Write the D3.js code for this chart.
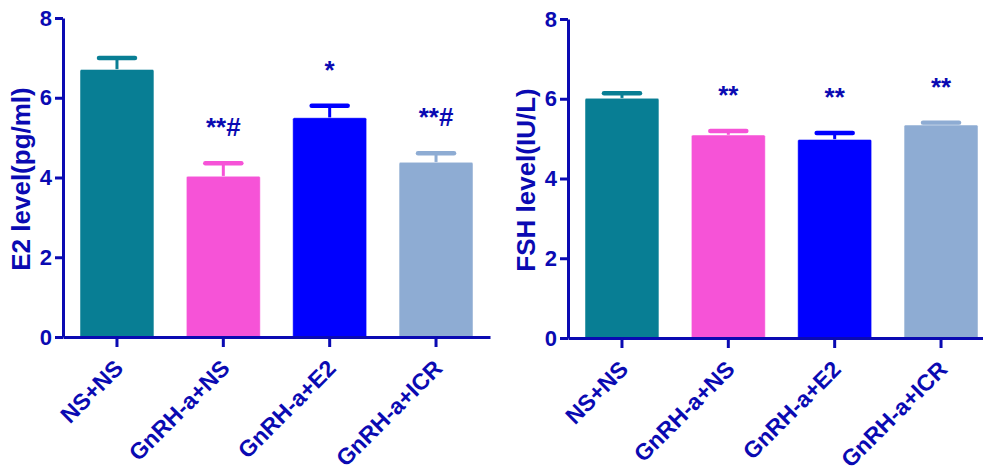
<!DOCTYPE html>
<html>
<head>
<meta charset="utf-8">
<script src="https://cdn.jsdelivr.net/npm/d3@7"></script>
<style>
  body { margin: 0; background: #fff; }
  svg text { font-family: "Liberation Sans", Arial, sans-serif; font-weight: bold; }
</style>
</head>
<body>
<svg id="chart" width="983" height="471"></svg>
<script>
const groups = ["NS+NS", "GnRH-a+NS", "GnRH-a+E2", "GnRH-a+ICR"];
const colors = ["#087e94", "#f653d7", "#0000ff", "#8eacd3"];
const yTicks = [0, 2, 4, 6, 8];

// E2 panel
const e2Values = [6.71, 4.03, 5.50, 4.38];
const e2Errors = [0.29, 0.33, 0.30, 0.23];
const e2Marks = ["", "**#", "*", "**#"];

// FSH panel
const fshValues = [6.01, 5.09, 4.98, 5.34];
const fshErrors = [0.13, 0.10, 0.16, 0.06];
const fshMarks = ["", "**", "**", "**"];

const ink = "#0a0ab2";
const svg = d3.select("#chart");

function drawPanel(cfg) {
    const g = svg.append("g");

    let x = d3.scaleBand()
        .domain(groups)
        .range([cfg.left, cfg.left + 427])
        .paddingInner(0.305)
        .paddingOuter(0.16)
        .align(0.5);

    let y = d3.scaleLinear()
        .domain([0, 8])
        .range([cfg.bottom, cfg.bottom - 319]);

    const data = groups.map((d, i) => ({
        group: d, value: cfg.values[i], err: cfg.errors[i], mark: cfg.marks[i], color: colors[i]
    }));

    // error bars first, bar covers the lower stem
    g.selectAll(".stem")
        .data(data)
        .join("line")
        .attr("x1", d => x(d.group) + x.bandwidth() / 2)
        .attr("x2", d => x(d.group) + x.bandwidth() / 2)
        .attr("y1", d => y(d.value))
        .attr("y2", d => y(d.value + d.err))
        .attr("stroke", d => d.color)
        .attr("stroke-width", 3);

    g.selectAll(".cap")
        .data(data)
        .join("line")
        .attr("x1", d => x(d.group) + x.bandwidth() / 2 - 18)
        .attr("x2", d => x(d.group) + x.bandwidth() / 2 + 18)
        .attr("y1", d => y(d.value + d.err))
        .attr("y2", d => y(d.value + d.err))
        .attr("stroke", d => d.color)
        .attr("stroke-width", 4.5)
        .attr("stroke-linecap", "round");

    g.selectAll("rect")
        .data(data)
        .join("rect")
        .attr("x", d => x(d.group))
        .attr("y", d => y(d.value))
        .attr("width", x.bandwidth())
        .attr("height", d => y(0) - y(d.value))
        .attr("rx", 1.5)
        .attr("fill", d => d.color)
        .attr("stroke", "rgba(255,255,255,0.45)")
        .attr("stroke-width", 1);

    g.selectAll(".mark")
        .data(data)
        .join("text")
        .attr("x", d => x(d.group) + x.bandwidth() / 2)
        .attr("y", d => y(d.value + d.err) - 27)
        .attr("text-anchor", "middle")
        .attr("font-size", "26px")
        .attr("fill", ink)
        .text(d => d.mark);

    // y axis
    let yAxis = g.append("g")
        .attr("transform", `translate(${cfg.left},0)`)
        .call(d3.axisLeft(y).tickValues(yTicks).tickSize(8).tickSizeOuter(0).tickPadding(3));

    // x axis
    let xAxis = g.append("g")
        .attr("transform", `translate(0,${cfg.bottom})`)
        .call(d3.axisBottom(x).tickSize(10).tickSizeOuter(0));

    [yAxis, xAxis].forEach(a => {
        a.select(".domain").attr("stroke", ink).attr("stroke-width", 3);
        a.selectAll(".tick line").attr("stroke", ink).attr("stroke-width", 3);
        a.selectAll("text").attr("fill", ink).attr("font-size", "22px");
    });

    xAxis.selectAll(".tick text")
        .attr("font-size", "23px")
        .attr("text-anchor", "end")
        .attr("transform", "translate(-13,12) rotate(-45)")
        .attr("dy", "0.71em");

    g.append("text")
        .attr("transform", `translate(${cfg.left - 33},${cfg.bottom - 158}) rotate(-90)`)
        .attr("text-anchor", "middle")
        .attr("font-size", "26px")
        .attr("fill", ink)
        .text(cfg.title);
}

drawPanel({left: 63, bottom: 337, values: e2Values, errors: e2Errors, marks: e2Marks, title: "E2 level(pg/ml)"});
drawPanel({left: 568, bottom: 338, values: fshValues, errors: fshErrors, marks: fshMarks, title: "FSH level(IU/L)"});
</script>
</body>
</html>
